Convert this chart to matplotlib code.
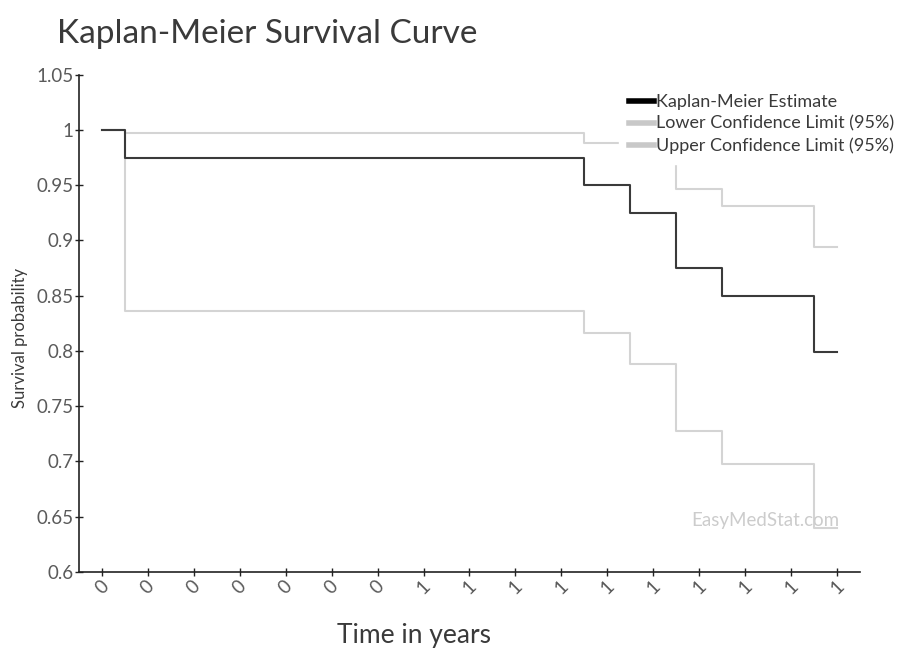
import numpy as np
import matplotlib.pyplot as plt
from matplotlib.lines import Line2D

# Data
time_labels = ['0'] * 7 + ['1'] * 10
survival = [1.0] + [0.975] * 10 + [0.95, 0.925, 0.875, 0.85, 0.85, 0.799]
upper_ci = [1.0] + [0.997] * 10 + [0.988, 0.975, 0.947, 0.931, 0.931, 0.894]
lower_ci = [1.0] + [0.836] * 10 + [0.816, 0.788, 0.728, 0.698, 0.698, 0.640]
y_ticks = [0.6, 0.65, 0.7, 0.75, 0.8, 0.85, 0.9, 0.95, 1.0, 1.05]

plt.rcParams['font.family'] = ['Lato', 'DejaVu Sans']

fig = plt.figure(figsize=(9.04, 6.51), dpi=100)
ax = fig.add_axes([79 / 904, 1 - 572 / 651, 781 / 904, (572 - 74.7) / 651])

x = np.arange(len(time_labels))
ci_color = '#d4d4d4'
ax.step(x, lower_ci, where='mid', color=ci_color, lw=1.5, zorder=2)
ax.step(x, upper_ci, where='mid', color=ci_color, lw=1.5, zorder=2)
ax.step(x, survival, where='mid', color='#3a3a3a', lw=1.5, zorder=3)

ax.set_xlim(-0.5, len(time_labels) - 0.5)
ax.set_ylim(0.6, 1.05)
ax.set_xticks(x)
ax.set_xticklabels(time_labels, rotation=45, ha='center', va='top')
ax.set_yticks(y_ticks)
ax.set_yticklabels([('%g' % v) for v in y_ticks])

for side in ['top', 'right']:
    ax.spines[side].set_visible(False)
for side in ['left', 'bottom']:
    ax.spines[side].set_color('#222222')
    ax.spines[side].set_linewidth(1.2)
ax.tick_params(axis='both', direction='inout', length=6, width=1,
               color='#222222', labelcolor='#5a5a5a', labelsize=13.5)
ax.tick_params(axis='x', pad=1)
ax.tick_params(axis='y', pad=1)

# watermark
ax.text(0.974, 0.104, 'EasyMedStat.com', transform=ax.transAxes,
        ha='right', va='center', fontsize=13.5, color='#cccccc')

# legend
handles = [
    Line2D([], [], color='black', lw=4),
    Line2D([], [], color='#c8c8c8', lw=4),
    Line2D([], [], color='#c8c8c8', lw=4),
]
labels = ['Kaplan-Meier Estimate', 'Lower Confidence Limit (95%)',
          'Upper Confidence Limit (95%)']
leg = fig.legend(handles, labels, loc='upper right',
                 bbox_to_anchor=(904 / 904, 1 - 84 / 651),
                 frameon=True, fontsize=13, handlelength=1.4,
                 handletextpad=0.1, labelspacing=0.32, borderpad=0.55,
                 borderaxespad=0)
leg.get_frame().set_facecolor('white')
leg.get_frame().set_edgecolor('white')
leg.get_frame().set_alpha(1)
leg.set_zorder(10)
for t in leg.get_texts():
    t.set_color('#3a3a3a')

fig.text(57 / 904, 1 - 43 / 651, 'Kaplan-Meier Survival Curve',
         fontsize=24, color='#3a3a3a', ha='left', va='baseline')
fig.text(20 / 904, 1 - 338 / 651, 'Survival probability', rotation=90,
         fontsize=12, color='#3a3a3a', ha='center', va='center')
fig.text(414 / 904, 1 - 635 / 651, 'Time in years', fontsize=19,
         color='#3a3a3a', ha='center', va='center')

fig.savefig('out.png', dpi=100)
